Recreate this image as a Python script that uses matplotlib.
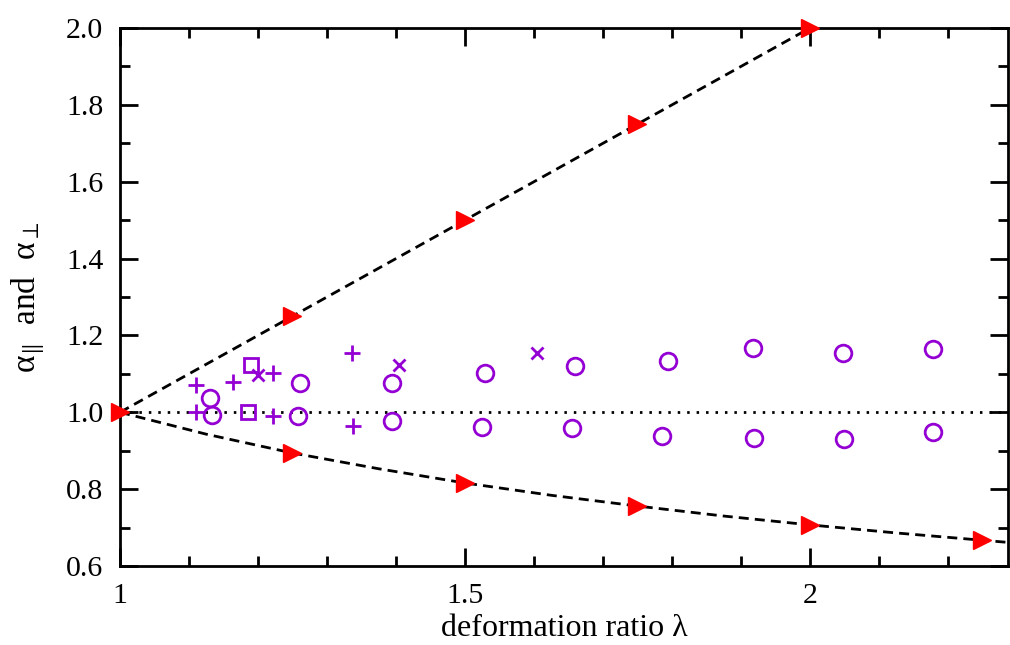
import matplotlib
matplotlib.use("Agg")
import matplotlib.pyplot as plt
from matplotlib.ticker import MultipleLocator, FormatStrFormatter

plt.rcParams["font.family"] = ["Liberation Serif", "DejaVu Serif"]
plt.rcParams["mathtext.fontset"] = "stix"

# theory points (red triangles)
upper_lam = [1.0, 1.25, 1.5, 1.75, 2.0]
upper_alpha = [1.0, 1.25, 1.5, 1.75, 2.0]
lower_lam = [1.25, 1.5, 1.75, 2.0, 2.25]
lower_alpha = [0.894, 0.816, 0.756, 0.707, 0.667]
# dashed guide lines through those points
upper_line_x = [1.0, 1.25, 1.5, 1.75, 2.0]
upper_line_y = [1.0, 1.25, 1.5, 1.75, 2.0]
lower_line_x = [1.0, 1.125, 1.25, 1.375, 1.5, 1.625, 1.75, 1.875, 2.0, 2.125, 2.25, 2.29]
lower_line_y = [1.0, 0.943, 0.894, 0.853, 0.816, 0.784, 0.756, 0.730, 0.707, 0.686, 0.667, 0.661]

# simulation points
circ_lam = [1.130, 1.261, 1.394, 1.529, 1.659, 1.794, 1.917, 2.048, 2.178]
circ_par = [1.038, 1.076, 1.077, 1.102, 1.120, 1.133, 1.167, 1.155, 1.164]
circ_lam2 = [1.133, 1.258, 1.394, 1.525, 1.655, 1.785, 1.919, 2.049, 2.178]
circ_perp = [0.993, 0.990, 0.977, 0.963, 0.959, 0.939, 0.932, 0.930, 0.948]
plus_lam = [1.110, 1.110, 1.164, 1.222, 1.222, 1.336, 1.338]
plus_alpha = [1.070, 1.000, 1.079, 1.102, 0.990, 1.155, 0.965]
cross_lam = [1.200, 1.404, 1.604]
cross_alpha = [1.097, 1.123, 1.154]
sq_lam = [1.190, 1.186]
sq_alpha = [1.123, 1.000]

purple = "#9400D3"

fig = plt.figure(figsize=(10.1, 6.45), dpi=100)
ax = fig.add_axes([120 / 1010, 79 / 645, 888 / 1010, 538 / 645])

ax.axhline(1.0, color="black", lw=2.0, ls=(0, (0.9, 2.5)), zorder=1)
ax.plot(upper_line_x, upper_line_y, color="black", lw=2.0, ls=(0, (3.6, 2.2)), zorder=2)
ax.plot(lower_line_x, lower_line_y, color="black", lw=2.0, ls=(0, (3.6, 2.2)), zorder=2)

ax.plot(circ_lam, circ_par, "o", ms=12, mfc="none", mec=purple, mew=2.0, ls="none")
ax.plot(circ_lam2, circ_perp, "o", ms=12, mfc="none", mec=purple, mew=2.0, ls="none")
ax.plot(plus_lam, plus_alpha, "+", ms=11, mec=purple, mew=2.0, ls="none")
ax.plot(cross_lam, cross_alpha, "x", ms=8, mec=purple, mew=2.0, ls="none")
ax.plot(sq_lam, sq_alpha, "s", ms=9.5, mfc="none", mec=purple, mew=2.0, ls="none")

ax.plot(upper_lam, upper_alpha, ">", ms=13, color="red", ls="none", zorder=4, clip_on=False)
ax.plot(lower_lam, lower_alpha, ">", ms=13, color="red", ls="none", zorder=4, clip_on=False)

ax.set_xlim(1.0, 2.287)
ax.set_ylim(0.6, 2.0)
ax.xaxis.set_major_locator(MultipleLocator(0.5))
ax.xaxis.set_minor_locator(MultipleLocator(0.1))
ax.yaxis.set_major_locator(MultipleLocator(0.2))
ax.yaxis.set_minor_locator(MultipleLocator(0.1))
ax.xaxis.set_major_formatter(FormatStrFormatter("%g"))
ax.yaxis.set_major_formatter(FormatStrFormatter("%.1f"))

ax.tick_params(which="both", direction="in", top=True, right=True, width=2.0, labelsize=21.5)
ax.tick_params(axis="x", which="major", length=13, pad=12)
ax.tick_params(axis="y", which="major", length=13, pad=12)
ax.tick_params(which="minor", length=7)
for s in ax.spines.values():
    s.set_linewidth(2.0)

ax.set_xlabel("deformation ratio λ", fontsize=23, labelpad=4)
ax.set_ylabel(r"α$_{\Vert}$  and  α$_{\perp}$", fontsize=24, labelpad=14)

fig.savefig("out.png", dpi=100)
